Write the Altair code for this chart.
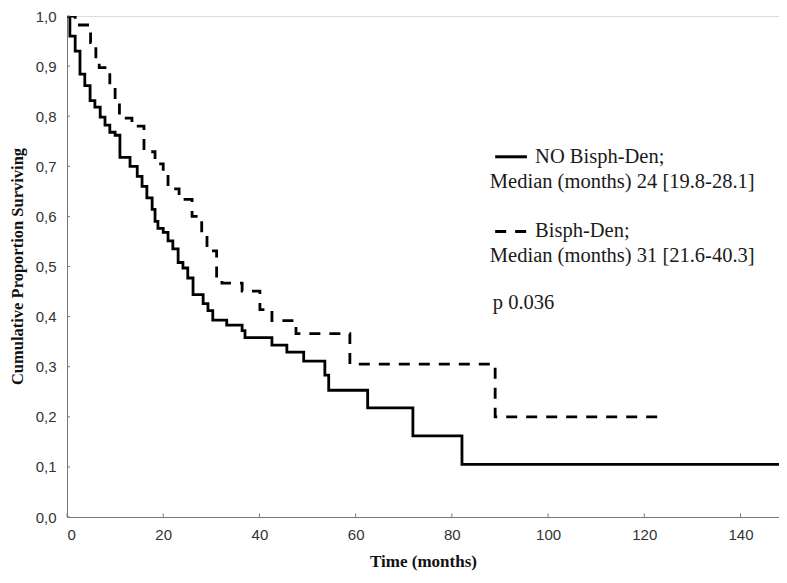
import altair as alt
import pandas as pd

# ---- data ----
# NO Bisph-Den (solid)
no_t = [0, 0.6, 1.7, 2.7, 3.7, 4.8, 5.8, 6.9, 7.9, 8.9, 10.0, 11.0, 13.1, 14.6, 15.6, 16.6, 17.7, 18.3, 18.9, 20.0,
        21.0, 22.0, 23.1, 24.1, 25.1, 26.2, 28.3, 29.3, 30.3, 33.2, 36.4, 37.0, 42.6, 45.7, 49.2, 53.6, 54.4, 62.5,
        71.9, 82.1, 150]
no_s = [1.0, 0.960, 0.930, 0.884, 0.861, 0.831, 0.818, 0.798, 0.782, 0.768, 0.762, 0.718, 0.700, 0.680, 0.660,
        0.637, 0.614, 0.590, 0.576, 0.568, 0.551, 0.535, 0.508, 0.497, 0.477, 0.444, 0.426, 0.412, 0.393, 0.383,
        0.372, 0.358, 0.343, 0.329, 0.311, 0.283, 0.253, 0.218, 0.162, 0.105, 0.105]

# Bisph-Den (dashed)
bd_t = [0, 1.7, 4.9, 6.0, 6.7, 8.9, 10.0, 10.9, 13.5, 16.0, 18.3, 20.0, 21.0, 23.3, 26.0, 28.0, 29.1, 31.1, 32.2,
        36.4, 40.1, 42.6, 47.6, 58.8, 89.0, 123.6]
bd_s = [1.0, 0.982, 0.947, 0.915, 0.897, 0.861, 0.830, 0.796, 0.780, 0.729, 0.705, 0.687, 0.655, 0.634, 0.600,
        0.566, 0.531, 0.481, 0.467, 0.451, 0.414, 0.392, 0.366, 0.305, 0.200, 0.200]

x_ticks = [0, 20, 40, 60, 80, 100, 120, 140]
y_ticks = [0.0, 0.1, 0.2, 0.3, 0.4, 0.5, 0.6, 0.7, 0.8, 0.9, 1.0]

legend_lines = ["NO Bisph-Den;", "Median (months) 24 [19.8-28.1]",
                "Bisph-Den;", "Median (months) 31 [21.6-40.3]", "p 0.036"]
# annotation anchor positions (in data units)
legend_t = [97.3, 87.9, 97.3, 87.9, 88.5]
legend_s = [0.719, 0.669, 0.570, 0.521, 0.428]
sample_t = [89.0, 95.6]
sample_s_solid = 0.719
sample_s_dash = 0.570

SERIF = "Liberation Serif"
SANS = "Liberation Sans"

x_scale = alt.Scale(domain=[0, 148], nice=False, zero=False)
y_scale = alt.Scale(domain=[0, 1.0], nice=False)

x_axis = alt.Axis(values=x_ticks, ticks=False, grid=False, domainColor="#777", domainWidth=1,
                  labelFont=SANS, labelFontSize=15, labelColor="#333", labelPadding=10,
                  title="Time (months)", titleFont=SERIF, titleFontSize=17,
                  titleFontWeight="bold", titleColor="#111", titleBaseline="alphabetic", titleY=49)
y_axis = alt.Axis(values=y_ticks, ticks=False, grid=False, domainColor="#777", domainWidth=1,
                  labelFont=SANS, labelFontSize=15, labelColor="#333", labelPadding=11,
                  labelExpr="replace(format(datum.value, '.1f'), '.', ',')",
                  title="Cumulative Proportion Surviving", titleFont=SERIF, titleFontSize=16.5,
                  titleFontWeight="bold", titleColor="#111", titleBaseline="alphabetic",
                  titleX=-45, titleY=250, titleAlign="center", titleAngle=270)

X = alt.X("t:Q", scale=x_scale, axis=x_axis)
Y = alt.Y("s:Q", scale=y_scale, axis=y_axis)

df_no = pd.DataFrame({"t": no_t, "s": no_s})
df_bd = pd.DataFrame({"t": bd_t, "s": bd_s})

line_no = alt.Chart(df_no).mark_line(interpolate="step-after", color="black", strokeWidth=2.8,
                                     clip=True).encode(x=X, y=Y)
line_bd = alt.Chart(df_bd).mark_line(interpolate="step-after", color="black", strokeWidth=2.8,
                                     strokeDash=[11, 9], clip=True).encode(x=X, y=Y)

# inward tick marks
ytick_df = pd.DataFrame({"t": [0.0] * len(y_ticks), "t2": [0.62] * len(y_ticks), "s": y_ticks})
xtick_df = pd.DataFrame({"t": x_ticks, "s": [0.0] * len(x_ticks), "s2": [0.007] * len(x_ticks)})
yticks = alt.Chart(ytick_df).mark_rule(color="#777", strokeWidth=1).encode(x=X, x2="t2:Q", y=Y)
xticks = alt.Chart(xtick_df).mark_rule(color="#777", strokeWidth=1).encode(x=X, y=Y, y2="s2:Q")

ann_df = pd.DataFrame({"t": legend_t, "s": legend_s, "label": legend_lines})
ann = alt.Chart(ann_df).mark_text(align="left", baseline="middle", font=SERIF, fontSize=20.5,
                                  color="#1a1a1a").encode(x=X, y=Y, text="label:N")

samp_solid = alt.Chart(pd.DataFrame({"t": [sample_t[0]], "t2": [sample_t[1]], "s": [sample_s_solid]})) \
    .mark_rule(color="black", strokeWidth=3).encode(x=X, x2="t2:Q", y=Y)
samp_dash = alt.Chart(pd.DataFrame({"t": [sample_t[0]], "t2": [sample_t[1]], "s": [sample_s_dash]})) \
    .mark_rule(color="black", strokeWidth=3, strokeDash=[11, 9]).encode(x=X, x2="t2:Q", y=Y)

chart = alt.layer(line_no, line_bd, yticks, xticks, ann, samp_solid, samp_dash).properties(
    width=712, height=501,
    autosize=alt.AutoSizeParams(type="none"),
    padding={"left": 59, "top": 8, "right": 0, "bottom": 56},
).configure_view(stroke=None).configure(background="white")

chart.save("out.html", embed_options={"renderer": "svg", "actions": False})
